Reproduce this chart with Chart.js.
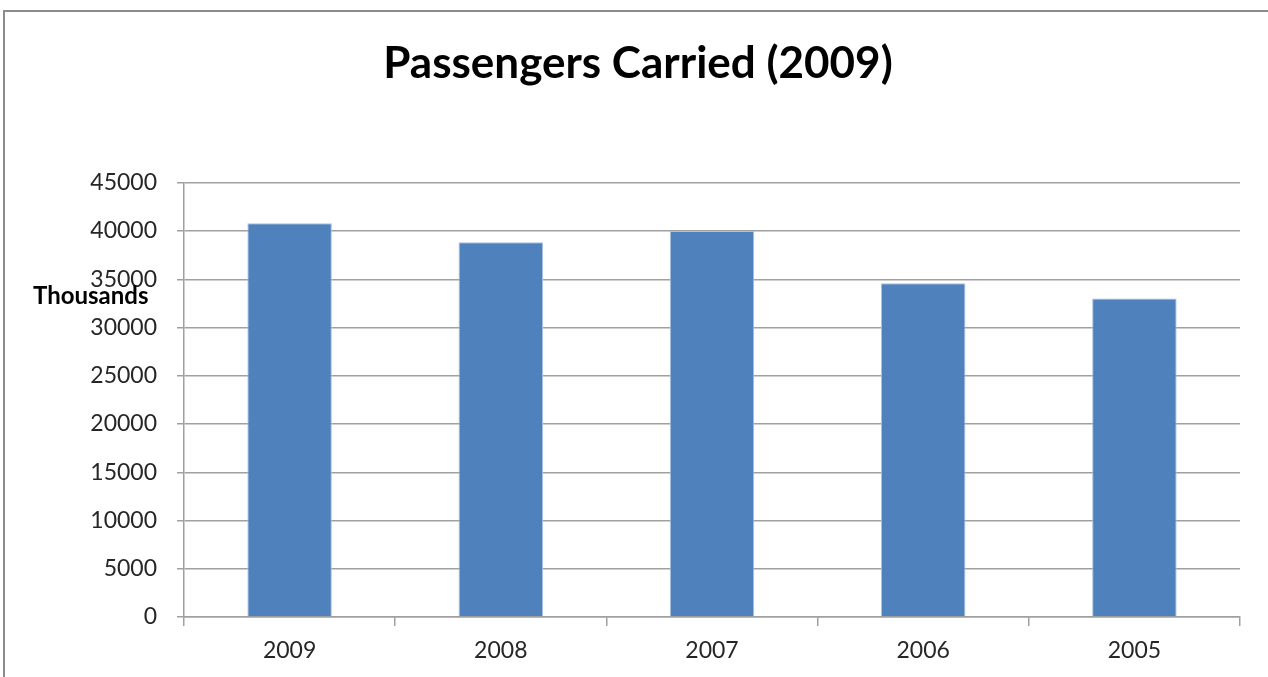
<!DOCTYPE html>
<html>
<head>
<meta charset="utf-8">
<script src="https://cdn.jsdelivr.net/npm/chart.js@4.4.1/dist/chart.umd.min.js"></script>
<style>
  html, body { margin: 0; padding: 0; background: #fff; }
  #wrap { position: relative; width: 1268px; height: 677px; overflow: hidden; }
  #frame {
    position: absolute; left: 3px; top: 10px; width: 1300px; height: 700px;
    border-left: 2px solid #8c8c8c; border-top: 2px solid #8c8c8c;
    pointer-events: none;
  }
  canvas { position: absolute; left: 0; top: 0; }
</style>
</head>
<body>
<div id="wrap">
  <div id="frame"></div>
  <canvas id="chart" width="1268" height="677"></canvas>
</div>
<script>
// Data
const years = ['2009', '2008', '2007', '2006', '2005'];
const passengers = [40800, 38850, 40000, 34600, 33000];
const yTicks = [0, 5000, 10000, 15000, 20000, 25000, 30000, 35000, 40000, 45000];

const chartTitle = 'Passengers Carried (2009)';
const unitLabel = 'Thousands';

const textColor = '#262626';
const gridColor = '#a0a0a0';

// Horizontal "Thousands" label to the left of the value axis
const unitLabelPlugin = {
  id: 'unitLabel',
  afterDraw(chart) {
    const ctx = chart.ctx;
    ctx.save();
    ctx.font = 'bold 24px Lato';
    ctx.fillStyle = '#000';
    ctx.textBaseline = 'middle';
    ctx.textAlign = 'left';
    ctx.fillText(unitLabel, 33, 296);
    ctx.restore();
  }
};

const ctx = document.getElementById('chart').getContext('2d');
new Chart(ctx, {
  type: 'bar',
  data: {
    labels: years,
    datasets: [{
      label: 'Passengers',
      data: passengers,
      backgroundColor: '#4f81bd',
      borderColor: '#a9c2e0',
      borderWidth: 1,
      barPercentage: 0.8,
      categoryPercentage: 0.5
    }]
  },
  options: {
    responsive: false,
    animation: false,
    // left padding keeps the title centred on the whole frame
    layout: { padding: { left: 36, right: 28, top: 0, bottom: 0 } },
    plugins: {
      legend: { display: false },
      tooltip: { enabled: false },
      title: {
        display: true,
        text: chartTitle,
        color: '#000',
        font: { family: 'Lato', size: 44, weight: 'bold', lineHeight: 1.2 },
        padding: { top: 37, bottom: 93 }
      }
    },
    scales: {
      x: {
        grid: {
          offset: true,
          drawOnChartArea: false,
          drawTicks: true,
          tickLength: 9,
          color: gridColor,
          lineWidth: 1.5
        },
        border: { color: gridColor, width: 1.5 },
        ticks: {
          color: textColor,
          font: { family: 'Lato', size: 23 },
          padding: 11
        },
        afterFit(scale) { scale.height = 60; }
      },
      y: {
        min: 0,
        max: 45000,
        afterBuildTicks(scale) { scale.ticks = yTicks.map(v => ({ value: v })); },
        grid: {
          color: gridColor,
          lineWidth: 1.5,
          tickLength: 7
        },
        border: { color: gridColor, width: 1.5 },
        ticks: {
          color: textColor,
          font: { family: 'Lato', size: 23 },
          padding: 20,
          callback: v => String(v)
        },
        afterFit(scale) { scale.width = 148; }
      }
    }
  },
  plugins: [unitLabelPlugin]
});
</script>
</body>
</html>
